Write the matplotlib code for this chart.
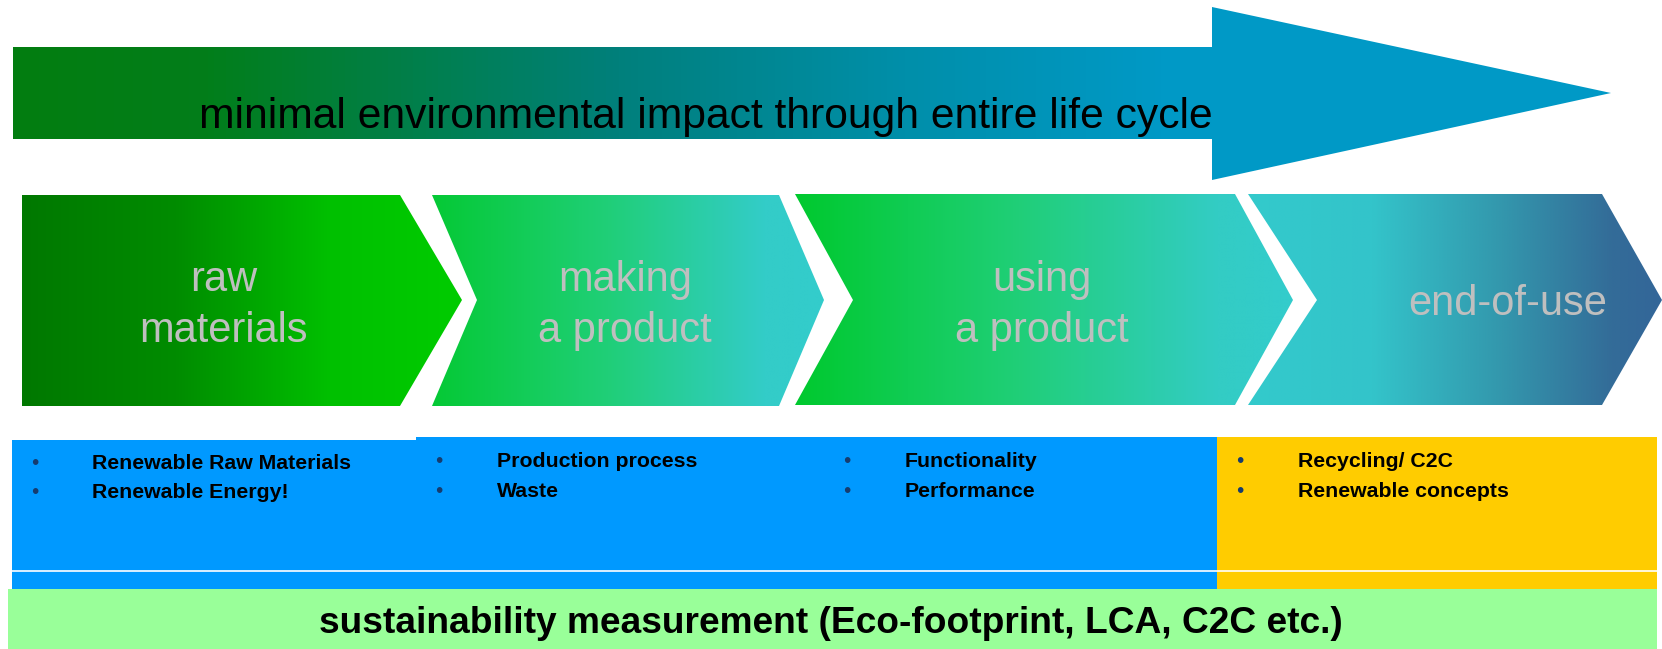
import numpy as np
import matplotlib
matplotlib.use("Agg")
import matplotlib.pyplot as plt
from matplotlib.patches import Polygon, Rectangle
from matplotlib.colors import LinearSegmentedColormap

# ---- content ----
banner_text = "minimal environmental impact through entire life cycle"
stage_labels = ["raw\nmaterials", "making\na product", "using\na product", "end-of-use"]
stage_bullets = [
    ["Renewable Raw Materials", "Renewable Energy!"],
    ["Production process", "Waste"],
    ["Functionality", "Performance"],
    ["Recycling/ C2C", "Renewable concepts"],
]
footer_text = "sustainability measurement (Eco-footprint, LCA, C2C etc.)"

plt.rcParams['font.family'] = ['Liberation Sans', 'DejaVu Sans']

W, H = 1662, 649
fig = plt.figure(figsize=(W / 100, H / 100), dpi=100)
ax = fig.add_axes([0, 0, 1, 1])
ax.axis('off')


def gradient_poly(verts, stops):
    poly = Polygon(verts, closed=True, facecolor='none', edgecolor='none')
    ax.add_patch(poly)
    xs = [v[0] for v in verts]
    ys = [v[1] for v in verts]
    x0, x1 = min(xs), max(xs)
    y0, y1 = min(ys), max(ys)
    cmap = LinearSegmentedColormap.from_list('g', stops)
    grad = np.linspace(0, 1, 512)[None, :]
    im = ax.imshow(grad, cmap=cmap, extent=(x0, x1, y1, y0), aspect='auto',
                   interpolation='bilinear', zorder=1)
    im.set_clip_path(poly)


# ---- top banner arrow ----
banner = [(13, 47), (1212, 47), (1212, 7), (1611, 93), (1212, 180), (1212, 139), (13, 139)]
gradient_poly(banner, [(0.0, '#027D10'), (0.12, '#027E1A'), (0.38, '#00807C'),
                       (0.56, '#008FAA'), (0.72, '#0099C6'), (1.0, '#0099C6')])
ax.text(199, 128, banner_text, fontsize=30.7, color='black', ha='left', va='baseline', zorder=3)

# ---- chevrons ----
chevrons = [
    [(22, 195), (400, 195), (462, 300), (400, 406), (22, 406)],
    [(432, 195), (779, 195), (824, 300), (779, 406), (432, 406), (477, 300)],
    [(795, 194), (1235, 194), (1293, 300), (1235, 405), (795, 405), (853, 300)],
    [(1248, 194), (1602, 194), (1662, 300), (1602, 405), (1248, 405), (1317, 300)],
]
chev_stops = [
    [(0.0, '#007800'), (0.35, '#008C00'), (0.7, '#00C000'), (1.0, '#00CC00')],
    [(0.0, '#05C935'), (0.45, '#20CF78'), (0.85, '#33CCC8'), (1.0, '#33CCCC')],
    [(0.0, '#00C92E'), (0.45, '#20CF78'), (0.85, '#33CCC4'), (1.0, '#33CCCC')],
    [(0.0, '#33CACC'), (0.3, '#33C4CA'), (0.6, '#3399AE'), (0.88, '#336C98'), (1.0, '#336699')],
]
for verts, stops in zip(chevrons, chev_stops):
    gradient_poly(verts, stops)

label_x = [224, 625, 1042, 1508]
label_color = '#BFBFBF'
for lx, lab in zip(label_x, stage_labels):
    lines = lab.split('\n')
    if len(lines) == 1:
        baselines = [315]
    else:
        baselines = [291, 342]
    for ln, by in zip(lines, baselines):
        ax.text(lx, by, ln, fontsize=30, color=label_color, ha='center', va='baseline', zorder=3)

# ---- bullet boxes ----
boxes = [(12, 440, 416), (416, 437, 840), (840, 437, 1218), (1217, 437, 1657)]
box_colors = ['#0099FF', '#0099FF', '#0099FF', '#FFCC00']
for (bx0, by0, bx1), c in zip(boxes, box_colors):
    ax.add_patch(Rectangle((bx0, by0), bx1 - bx0, 589 - by0, facecolor=c,
                           edgecolor='none', zorder=1))
ax.plot([12, 1657], [571, 571], color='white', lw=1.2, zorder=2)

bullet_x = [35, 439, 847, 1240]
text_x = [92, 497, 905, 1298]
line_base = [[469, 498], [467, 497], [467, 497], [467, 497]]
for bx, tx, items, bases in zip(bullet_x, text_x, stage_bullets, line_base):
    for item, by in zip(items, bases):
        ax.text(bx, by, '\u2022', fontsize=15, color='#163C6E', ha='center',
                va='baseline', zorder=3)
        ax.text(tx, by, item, fontsize=15.3, fontweight='bold', color='black',
                ha='left', va='baseline', zorder=3)

# ---- footer ----
ax.add_patch(Rectangle((8, 589), 1657 - 8, H - 589, facecolor='#99FF99',
                       edgecolor='none', zorder=2))
ax.text(831, 633, footer_text, fontsize=26.7, fontweight='bold', color='black',
        ha='center', va='baseline', zorder=3)

ax.set_xlim(0, W)
ax.set_ylim(H, 0)
fig.savefig('out.png', dpi=100, facecolor='white')
